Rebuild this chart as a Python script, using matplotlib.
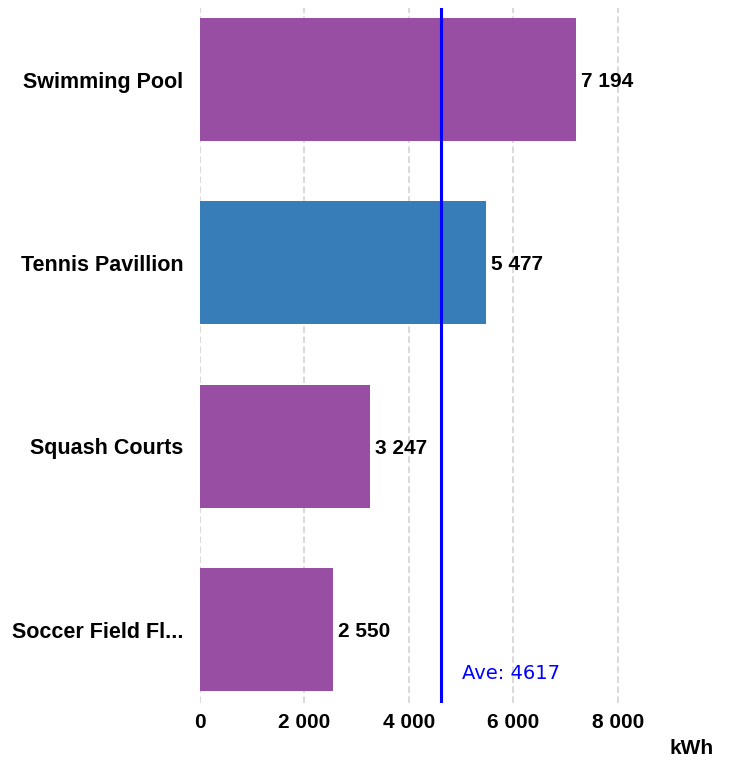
import numpy as np
import matplotlib.pyplot as plt
from matplotlib.ticker import FuncFormatter

names = ["Swimming Pool", "Tennis Pavillion", "Squash Courts", "Soccer Field Fl..."]
values = [7194, 5477, 3247, 2550]
colors = ["#984EA3", "#377EB8", "#984EA3", "#984EA3"]
average = 4617
ticks = [0, 2000, 4000, 6000, 8000]

def fmt(v, pos=None):
    return "{:,}".format(int(v)).replace(",", " ")

plt.rcParams['font.family'] = ['Liberation Sans', 'DejaVu Sans']

fig = plt.figure(figsize=(7.32, 7.6), dpi=100)
ax = fig.add_axes([200/732, 57/760, 451/732, 695/760])

y = np.arange(len(names))
ax.barh(y, values, height=0.67, color=colors, zorder=2)
for yi, v in zip(y, values):
    ax.text(v + 100, yi, fmt(v), va="center_baseline", ha="left", fontsize=15, fontweight="bold", zorder=3)

ax.axvline(average, color="#0000FF", linewidth=2.2, zorder=4)
ax.text(average + 400, 3.24, "Ave: " + str(average), color="#0000FF", fontsize=14,
        family="DejaVu Sans", va="center", ha="left")

ax.set_xlim(0, 8633)
ax.set_ylim(3.4, -0.39)
ax.set_yticks(y)
ax.set_yticklabels(names, fontsize=15.5, fontweight="bold")
ax.set_xticks(ticks)
ax.xaxis.set_major_formatter(FuncFormatter(fmt))
for lbl in ax.get_xticklabels():
    lbl.set_fontweight("bold")
    lbl.set_fontsize(15)
ax.tick_params(axis="y", length=0, pad=12)
ax.tick_params(axis="x", length=0, pad=7)
ax.grid(axis="x", color="#d3d3d3", linestyle=(0, (4, 2)), linewidth=1.2, zorder=0)
for s in ax.spines.values():
    s.set_visible(False)

fig.text(692/732, 1 - 748/760, "kWh", fontsize=15, fontweight="bold", ha="center", va="center")

fig.savefig("out.png", dpi=100)
